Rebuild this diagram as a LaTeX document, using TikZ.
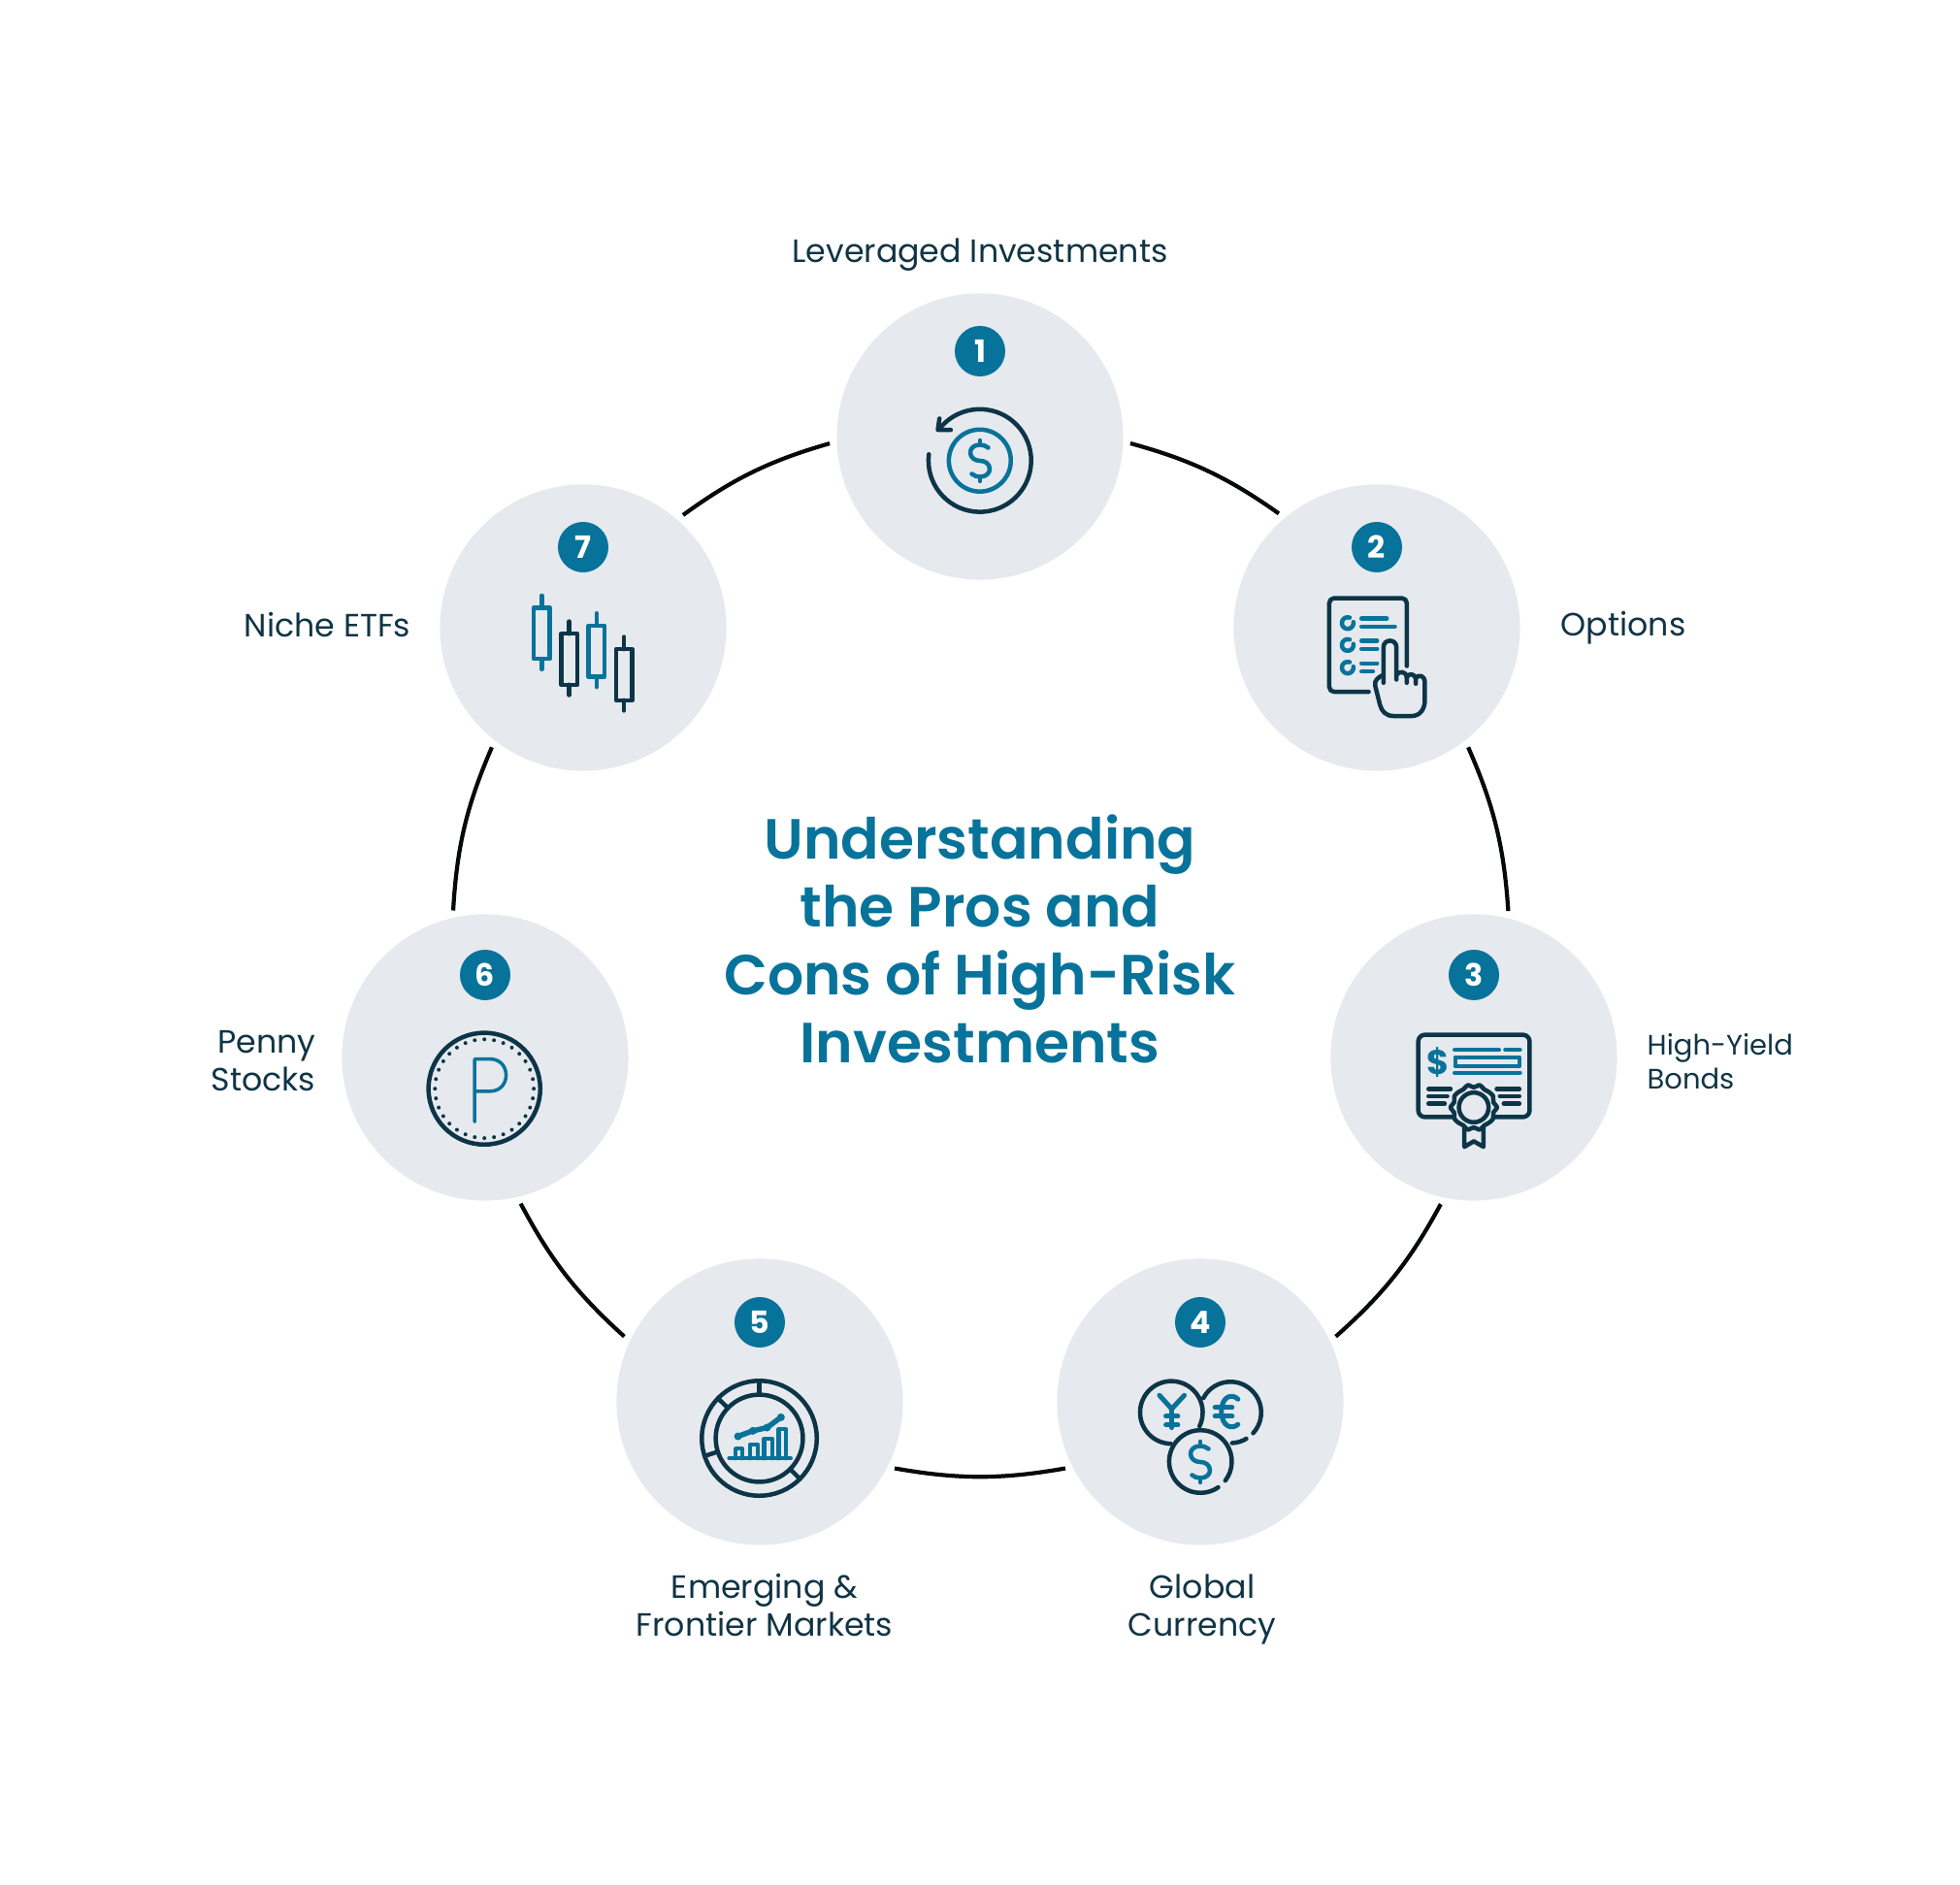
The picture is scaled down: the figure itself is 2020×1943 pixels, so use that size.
\documentclass[tikz,border=0pt]{standalone}
\usepackage{fontspec}
\setmainfont{Poppins}
\newfontfamily\titlefont{Poppins SemiBold}
\definecolor{ictealc}{HTML}{08739A}
\definecolor{icdarkc}{HTML}{0C3547}
\definecolor{bubblec}{HTML}{E6E9EE}
\definecolor{labelc}{HTML}{103444}
\definecolor{ringc}{HTML}{05090C}
\begin{document}
\begin{tikzpicture}[x=.01cm,y=.01cm,
    bubble/.style={circle, fill=bubblec, inner sep=0pt, minimum size=2.95cm},
    badge/.style={circle, fill=ictealc, text=white, inner sep=0pt, minimum size=.52cm, font=\fontsize{9}{9}\selectfont\bfseries},
    label/.style={text=labelc, inner sep=0pt, font=\fontsize{9.45}{11.1}\selectfont},
    ringline/.style={draw=ringc, line width=.042cm, shorten >=.07cm, shorten <=.07cm, bend left=10},
    icdark/.style={draw=icdarkc, line width=.045cm, line cap=round, line join=round},
    icteal/.style={draw=ictealc, line width=.045cm, line cap=round, line join=round},
    zoomed/.style={x=.0033333cm, y=-.0033333cm},
    dollarsign/.pic={
        \draw[icteal] (8.5,13.5) .. controls (6,15.5) and (3,16.5) .. (0,16.5) .. controls (-6,16.5) and (-10,13) .. (-10,8.5) .. controls (-10,3) and (-5,0) .. (0,0) .. controls (5,0) and (10,-3) .. (10,-8.5) .. controls (10,-13) and (6,-16.5) .. (0,-16.5) .. controls (-3,-16.5) and (-6,-15.5) .. (-8.5,-13.5);
        \draw[icteal] (0,16.5) -- (0,21);
        \draw[icteal] (0,-16.5) -- (0,-21);
    }]
    \useasboundingbox (0,0) rectangle (2020,1943);

    \node[bubble] (lev) at (1010,1493) {};
    \node[bubble] (opt) at (1419,1296) {};
    \node[bubble] (bond) at (1519,853) {};
    \node[bubble] (curr) at (1237,498) {};
    \node[bubble] (emer) at (783,498) {};
    \node[bubble] (penny) at (500,853) {};
    \node[bubble] (etf) at (601,1296) {};

    \draw[ringline] (lev.-2) to (opt.130.5);
    \draw[ringline] (opt.-52) to (bond.76.8);
    \draw[ringline] (bond.-102) to (curr.25);
    \draw[ringline] (curr.207) to (emer.-27);
    \draw[ringline] (emer.155) to (penny.-77);
    \draw[ringline] (penny.103.2) to (etf.232);
    \draw[ringline] (etf.49) to (lev.182);

    \node[badge] (levnum) at (1010,1581) {1};
    \node[badge] (optnum) at (1419,1379) {2};
    \node[badge] (bondnum) at (1519,938) {3};
    \node[badge] (currnum) at (1237,580) {4};
    \node[badge] (emernum) at (783,580) {5};
    \node[badge] (pennynum) at (500,938) {6};
    \node[badge] (etfnum) at (601,1379) {7};

    \node[label] (levtxt) at (1010,1680) {Leveraged Investments};
    \node[label, anchor=west] (opttxt) at (1608,1296) {Options};
    \node[label, anchor=west, align=left, font=\fontsize{8.25}{9.9}\selectfont] (bondtxt) at (1697,849) {High-Yield\\Bonds};
    \node[label, align=center] (currtxt) at (1239,284) {Global\\Currency};
    \node[label, align=center] (emertxt) at (788,288) {Emerging \&\\Frontier Markets};
    \node[label, anchor=east, align=right] (pennytxt) at (326,849) {Penny\\Stocks};
    \node[label, anchor=east] (etftxt) at (424,1299) {Niche ETFs};

    \node[text=ictealc, align=center, inner sep=0pt, font=\fontsize{16.6}{19.9}\titlefont] (title) at (1010,975) {Understanding\\the Pros and\\Cons of High-Risk\\Investments};

    \begin{scope}[shift={(900,1623)},zoomed]
        \draw[icdark] (330,465) ++(-173:159) arc[start angle=-173, end angle=-497.6, radius=159];
        \draw[icdark] (205,335) -- (200,370) -- (240,370);
        \draw[icteal] (330,465) circle[radius=96];
    \end{scope}
    \pic at (1010,1468) {dollarsign};

    \begin{scope}[shift={(1340,1353)},zoomed]
        \draw[icdark, rounded corners=.05cm] (330,290) -- (330,80) -- (90,80) -- (90,370) -- (212,370);
        \foreach \yy in {157,225,295} {
            \draw[icteal] (147,\yy) ++(-10:18) arc[start angle=-10, end angle=290, radius=18];
        }
        \draw[icteal] (190,143) -- (268,143);
        \draw[icteal] (190,168) -- (293,168);
        \draw[icteal] (190,212) -- (238,212);
        \draw[icteal] (190,237) -- (238,237);
        \draw[icteal] (190,282) -- (238,282);
        \draw[icteal] (190,307) -- (225,307);
        \draw[icdark] (258,342) -- (258,232) .. controls (258,205) and (298,205) .. (298,232) -- (298,332);
        \draw[icdark] (298,318) .. controls (305,305) and (328,305) .. (330,325) -- (330,342);
        \draw[icdark] (330,325) .. controls (335,312) and (355,312) .. (358,330) -- (358,345);
        \draw[icdark] (358,328) .. controls (365,315) and (385,318) .. (386,340) -- (386,395) .. controls (386,425) and (370,445) .. (345,445) -- (290,445) .. controls (265,445) and (252,430) .. (247,410) -- (232,350) .. controls (228,335) and (245,322) .. (258,318);
    \end{scope}

    \begin{scope}[shift={(1440,903)},zoomed]
        \draw[icdark, rounded corners=.07cm] (175,335) -- (65,335) -- (65,80) -- (410,80) -- (410,335) -- (300,335);
        \node[text=ictealc, inner sep=0pt, font=\fontsize{10}{10}\selectfont\bfseries] (bondsign) at (127,165) {\$};
        \draw[icteal] (178,127) -- (315,127);
        \draw[icteal] (335,127) -- (380,127);
        \draw[icteal] (180,150) rectangle (378,178);
        \draw[icteal] (178,198) -- (380,198);
        \draw[icdark] (97,248) -- (165,248);
        \draw[icdark] (97,270) -- (155,270);
        \draw[icdark] (97,293) -- (147,293);
        \draw[icdark] (308,248) -- (378,248);
        \draw[icdark] (318,270) -- (378,270);
        \draw[icdark] (330,293) -- (378,293);
        \draw[icdark] plot[smooth cycle, domain=0:345, samples=24] ({237+(67+5*cos(10*\x))*cos(\x)},{305+(67+5*cos(10*\x))*sin(\x)});
        \draw[icdark] (237,305) circle[radius=46];
        \draw[icdark] (208,365) -- (208,427) -- (237,410) -- (267,427) -- (267,365);
    \end{scope}

    \begin{scope}[shift={(1160,533)},zoomed]
        \draw[icdark] (142,138) ++(91:97) arc[start angle=91, end angle=386, radius=97];
        \draw[icdark] (325,138) ++(208:95) arc[start angle=208, end angle=402.5, radius=95];
        \draw[icdark] (325,138) ++(59:95) arc[start angle=59, end angle=87, radius=95];
        \draw[icdark] (232,290) ++(55.5:97) arc[start angle=55.5, end angle=397.6, radius=97];
        \draw[icteal, line width=.05cm] (105,85) -- (143,127) -- (182,85);
        \draw[icteal, line width=.05cm] (143,127) -- (143,185);
        \draw[icteal, line width=.05cm] (125,150) -- (162,150);
        \draw[icteal, line width=.05cm] (125,177) -- (162,177);
        \draw[icteal, line width=.05cm] (348,97) .. controls (330,78) and (297,88) .. (297,135) .. controls (297,182) and (330,192) .. (348,175);
        \draw[icteal, line width=.05cm] (277,122) -- (330,122);
        \draw[icteal, line width=.05cm] (277,150) -- (330,150);
    \end{scope}
    \pic at (1237,436) {dollarsign};

    \begin{scope}[shift={(700,533)},zoomed]
        \draw[icdark] (248,218) circle[radius=178];
        \draw[icdark] (248,218) circle[radius=135];
        \foreach \ang in {270,224,162,45} {
            \draw[icdark] (248,218) ++(\ang:135) -- ++(\ang:43);
        }
        \draw[icteal] (155,280) -- (345,280);
        \draw[icteal] (175,280) -- (175,250) -- (195,250) -- (195,280);
        \draw[icteal] (220,280) -- (220,237) -- (243,237) -- (243,280);
        \draw[icteal] (263,280) -- (263,220) -- (288,220) -- (288,280);
        \draw[icteal] (308,280) -- (308,190) -- (330,190) -- (330,280);
        \draw[icteal, line width=.055cm] (182,212) -- (228,195) -- (272,185) -- (315,153);
        \foreach \xx/\yy in {182/212,228/195,272/185,315/153} {
            \fill[ictealc] (\xx,\yy) circle[radius=12];
        }
    \end{scope}

    \begin{scope}[shift={(420,893)},zoomed]
        \draw[icdark] (238,217) circle[radius=173];
        \foreach \ang in {0,11.25,...,349} {
            \fill[icdarkc] (238,217) ++(\ang:153) circle[radius=6];
        }
        \draw[icteal, line width=.035cm] (208,320) -- (208,125) -- (255,125) .. controls (322,125) and (322,225) .. (255,225) -- (208,225);
    \end{scope}

    \begin{scope}[shift={(530,1343)},zoomed]
        \foreach \xx/\yy/\tone in {85/42/icteal,170/122/icdark,255/97/icteal,340/170/icdark} {
            \draw[\tone] (\xx-25,\yy+38) rectangle (\xx+25,\yy+196);
            \draw[\tone] (\xx,\yy) -- (\xx,\yy+38);
            \draw[\tone] (\xx,\yy+196) -- (\xx,\yy+228);
        }
    \end{scope}
\end{tikzpicture}
\end{document}
